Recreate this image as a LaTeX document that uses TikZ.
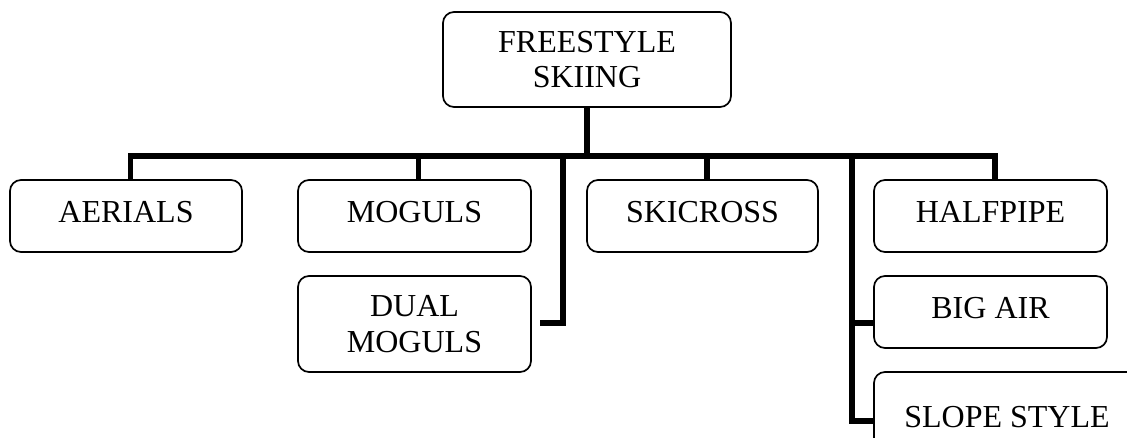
\documentclass[tikz,border=0pt]{standalone}
\usepackage{fontspec}
\setmainfont{Liberation Serif}
\begin{document}
\begin{tikzpicture}[x=1pt,y=-1pt,
  box/.style={draw, line width=1.7pt, rounded corners=11pt, align=center, inner sep=0pt,
    font=\fontsize{32}{35.5}\selectfont},
  onel/.style={text height=21pt, text depth=7pt},
  conn/.style={line width=5.2pt, line join=miter, line cap=butt}]
\useasboundingbox (0,0) rectangle (1127,438);
\clip (0,0) rectangle (1127,438);
\node[box, minimum width=288pt, minimum height=95pt] (root) at (587,59.5) {FREESTYLE\\SKIING};
\node[box, onel, minimum width=232pt, minimum height=72pt] (aer) at (126,216) {AERIALS};
\node[box, onel, minimum width=233pt, minimum height=72pt] (mog) at (414.5,216) {MOGULS};
\node[box, minimum width=233pt, minimum height=96pt] (dual) at (414.5,324) {DUAL\\MOGULS};
\node[box, onel, minimum width=231pt, minimum height=72pt] (ski) at (702.5,216) {SKICROSS};
\node[box, onel, minimum width=233pt, minimum height=72pt] (half) at (990.5,216) {HALFPIPE};
\node[box, onel, minimum width=233pt, minimum height=72pt] (big) at (990.5,312) {BIG AIR};
\node[box, onel, minimum width=266pt, minimum height=96pt] (slope) at (1007,420) {SLOPE STYLE};
\coordinate (j) at (587,156);
\coordinate (dv) at (563,156);
\coordinate (dm) at (540,323);
\coordinate (rv) at (852,156);
\coordinate (ba) at (852,323);
\coordinate (sl) at (852,421);
\draw[conn] (root.south) -- (j);
\draw[conn] ([xshift=4.5pt]aer.north) -- ([xshift=4.5pt]aer.north |- j) -- ([xshift=4.5pt]half.north |- j) -- ([xshift=4.5pt]half.north);
\draw[conn] ([xshift=4pt]mog.north) -- ([xshift=4pt]mog.north |- j);
\draw[conn] ([xshift=4.5pt]ski.north) -- ([xshift=4.5pt]ski.north |- j);
\draw[conn] (dv) -- (dv |- dm) -- (dm);
\draw[conn] (rv) -- (sl) -- (slope.west |- sl);
\draw[conn] (ba) -- (big.west |- ba);
\end{tikzpicture}
\end{document}
